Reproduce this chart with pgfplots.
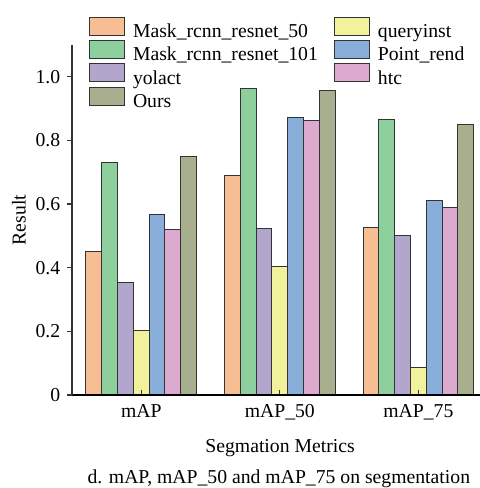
\documentclass[border=0pt]{standalone}
\usepackage{fontspec}
\setmainfont{Liberation Serif}
\usepackage{pgfplots}
\pgfplotsset{compat=1.18}
\definecolor{cMRa}{HTML}{F8BE93}
\definecolor{cMRb}{HTML}{8ED09D}
\definecolor{cYol}{HTML}{B2A6CC}
\definecolor{cQue}{HTML}{F2F29D}
\definecolor{cPnt}{HTML}{8AAEDA}
\definecolor{cHtc}{HTML}{DBAACE}
\definecolor{cOur}{HTML}{A8AF8F}
\pgfplotsset{
  mybar/.style={ybar, bar width=0.114, draw=black!80, line width=1bp,
    legend image code/.code={\draw[##1] (0bp,-2.3bp) rectangle (35bp,15.7bp);}},
}
\begin{document}
\fontsize{19.7bp}{23bp}\selectfont
\begin{tikzpicture}
\begin{axis}[
  scale only axis, width=408bp, height=350bp,
  xmin=-0.5, xmax=2.445, ymin=0, ymax=1.1,
  clip=false, axis on top,
  axis x line*=bottom, axis y line*=left,
  x axis line style={line width=2bp, black},
  y axis line style={line width=1.3bp, black!80},
  xtick={0,1,2}, xticklabels={mAP,mAP\_50,mAP\_75},
  ytick={0,0.2,0.4,0.6,0.8,1.0}, yticklabels={0,0.2,0.4,0.6,0.8,1.0},
  major tick length=5bp,
  xtick align=inside, ytick align=outside,
  every tick/.style={black!80, line width=1.2bp},
  xticklabel style={yshift=-3bp},
  /pgf/number format/assume math mode=true,
  xlabel={Segmation Metrics},
  xlabel style={at={(axis description cs:0.51,-0.163)}, anchor=base},
  ylabel={Result},
  ylabel style={at={(axis description cs:-0.13,0.5)}, anchor=center},
  legend columns=2,
  legend style={draw=none, fill=none, inner sep=0pt, outer sep=0pt,
    at={(axis description cs:0.0417,1.081)}, anchor=north west,
    column sep=8bp, row sep=-2.3bp,
    /tikz/every even column/.append style={column sep=16bp},
    nodes={inner sep=0pt, text height=14bp, text depth=5bp},
    legend cell align=left},
]
\addplot[mybar, bar shift=-0.342, fill=cMRa] coordinates {(0,0.450) (1,0.690) (2,0.527)};
\addlegendentry{Mask\_rcnn\_resnet\_50}
\addplot[mybar, bar shift=0, fill=cQue] coordinates {(0,0.204) (1,0.405) (2,0.085)};
\addlegendentry{queryinst}
\addplot[mybar, bar shift=-0.228, fill=cMRb] coordinates {(0,0.730) (1,0.963) (2,0.867)};
\addlegendentry{Mask\_rcnn\_resnet\_101}
\addplot[mybar, bar shift=0.114, fill=cPnt] coordinates {(0,0.566) (1,0.873) (2,0.611)};
\addlegendentry{Point\_rend}
\addplot[mybar, bar shift=-0.114, fill=cYol] coordinates {(0,0.355) (1,0.523) (2,0.501)};
\addlegendentry{yolact}
\addplot[mybar, bar shift=0.228, fill=cHtc] coordinates {(0,0.519) (1,0.864) (2,0.589)};
\addlegendentry{htc}
\addplot[mybar, bar shift=0.342, fill=cOur] coordinates {(0,0.750) (1,0.956) (2,0.851)};
\addlegendentry{Ours}
\node[anchor=base] at (axis description cs:0.507,-0.2529) {d. mAP, mAP\_50 and mAP\_75 on segmentation};
\end{axis}
\pgfresetboundingbox
\useasboundingbox (-72bp,-93bp) rectangle (408bp,395bp);
\end{tikzpicture}
\end{document}
